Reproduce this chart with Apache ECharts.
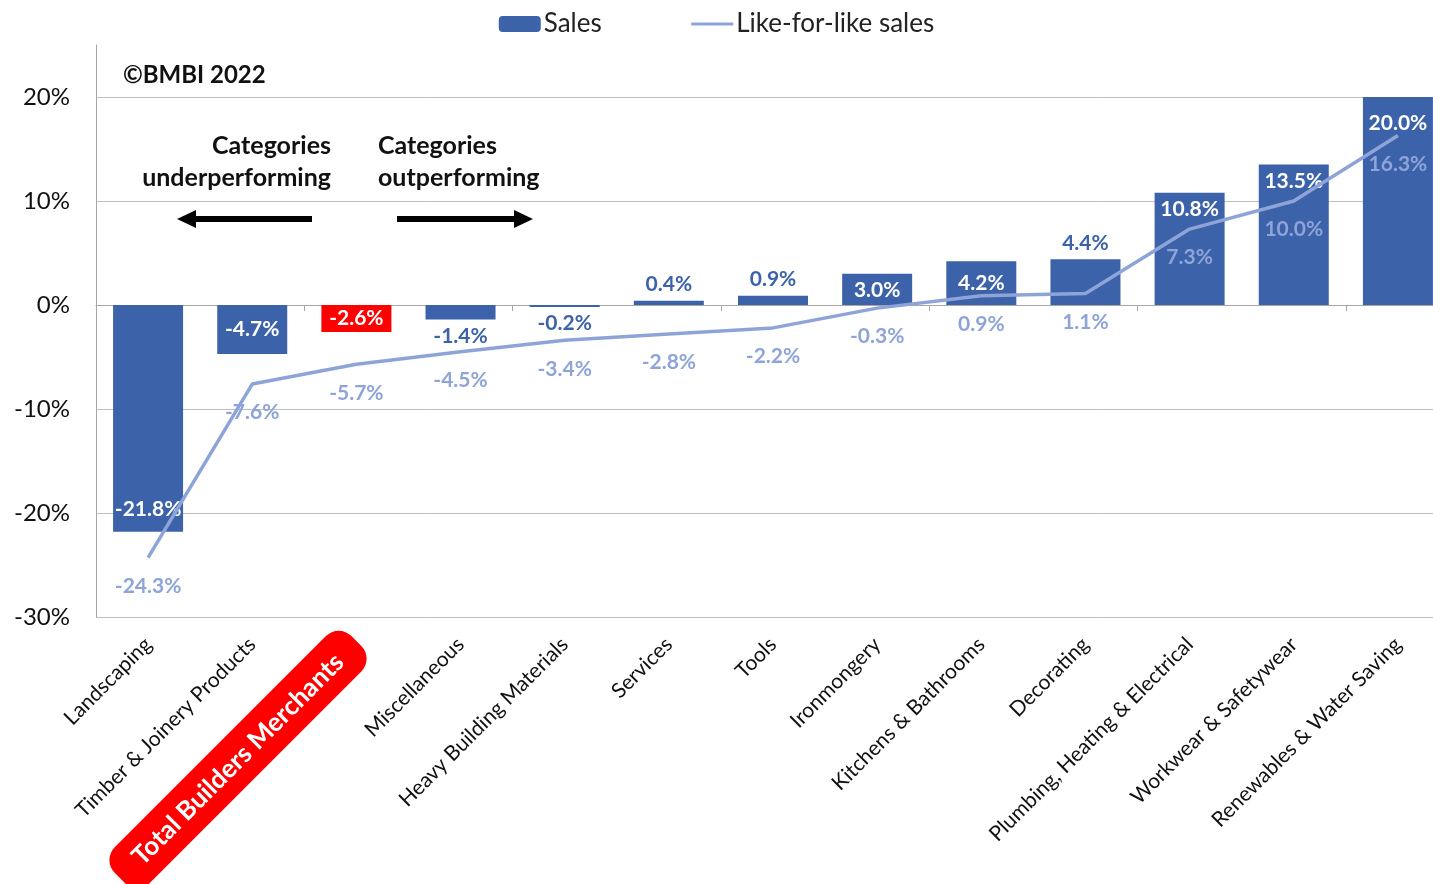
<!DOCTYPE html>
<html>
<head>
<meta charset="utf-8">
<script src="https://cdn.jsdelivr.net/npm/echarts@6/dist/echarts.min.js"></script>
<style>
    html, body { margin: 0; padding: 0; background: #fff; }
    #chart { width: 1433px; height: 884px; }
</style>
</head>
<body>
<div id="chart"></div>
<script>
const categories = [
    'Landscaping', 'Timber & Joinery Products', 'Total Builders Merchants', 'Miscellaneous',
    'Heavy Building Materials', 'Services', 'Tools', 'Ironmongery', 'Kitchens & Bathrooms',
    'Decorating', 'Plumbing, Heating & Electrical', 'Workwear & Safetywear', 'Renewables & Water Saving'
];
const sales = [-21.8, -4.7, -2.6, -1.4, -0.2, 0.4, 0.9, 3.0, 4.2, 4.4, 10.8, 13.5, 20.0];
const likeForLike = [-24.3, -7.6, -5.7, -4.5, -3.4, -2.8, -2.2, -0.3, 0.9, 1.1, 7.3, 10.0, 16.3];
const highlight = 'Total Builders Merchants';

// where each sales label sits relative to its bar
const salesLabelPos = ['insideBottom', 'inside', 'inside', 'bottom', 'bottom', 'top', 'top',
    'insideTop', 'inside', 'top', 'insideTop', 'insideTop', 'insideTop'];

const FONT = 'Lato, "Noto Sans", sans-serif';
const BAR = '#3C62AA';
const LINE = '#8EA4D8';

const chart = echarts.init(document.getElementById('chart'));

const barData = sales.map((v, i) => {
    const pos = salesLabelPos[i];
    const inside = pos.indexOf('inside') === 0;
    return {
        value: v,
        itemStyle: { color: categories[i] === highlight ? '#FF0000' : BAR },
        label: {
            position: pos,
            color: inside ? '#fff' : BAR,
            distance: pos === 'insideTop' && v > 15 ? 16 : (pos === 'insideBottom' ? 12 : 6)
        }
    };
});

const option = {
    animation: false,
    textStyle: { fontFamily: FONT },
    legend: {
        top: 6,
        left: 'center',
        itemWidth: 42,
        itemHeight: 16,
        itemGap: 88,
        textStyle: { fontSize: 26, color: '#222', fontFamily: FONT, padding: [0, 0, 0, -2] },
        data: [
            { name: 'Sales' },
            { name: 'Like-for-like sales', itemStyle: { opacity: 0 }, lineStyle: { width: 3 } }
        ]
    },
    grid: { left: 96, right: -17, top: 45, bottom: 267, outerBoundsMode: 'none', containLabel: false },
    xAxis: [
        {
            type: 'category',
            data: categories,
            position: 'bottom',
            axisLine: { onZero: true, lineStyle: { color: '#A6A6A6', width: 1 } },
            axisTick: { show: true, length: 6, lineStyle: { color: '#A6A6A6' } },
            axisLabel: { show: false }
        },
        {
            type: 'category',
            data: categories,
            position: 'bottom',
            axisLine: { show: false, onZero: false },
            axisTick: { show: false },
            axisLabel: {
                interval: 0,
                rotate: 45,
                margin: 24,
                fontSize: 21,
                color: '#111',
                fontFamily: FONT,
                formatter: v => v === highlight ? '{tbm|' + v + '}' : v,
                rich: {
                    tbm: {
                        backgroundColor: '#FF0000',
                        color: '#fff',
                        fontWeight: 'bold',
                        fontSize: 26,
                        fontFamily: FONT,
                        padding: [12, 24, 12, 24],
                        borderRadius: 18
                    }
                }
            }
        }
    ],
    yAxis: {
        type: 'value',
        min: -30,
        max: 25,
        interval: 10,
        axisLine: { show: true, lineStyle: { color: '#A6A6A6' } },
        axisTick: { show: false },
        axisLabel: {
            showMaxLabel: false,
            fontSize: 24,
            color: '#111',
            margin: 26,
            fontFamily: FONT,
            formatter: v => v + '%'
        },
        splitLine: { showMaxLine: false, lineStyle: { color: '#BFBFBF', width: 1 } }
    },
    series: [
        {
            name: 'Sales',
            type: 'bar',
            barWidth: 70,
            itemStyle: { color: BAR },
            label: {
                show: true,
                fontSize: 21,
                fontWeight: 'bold',
                fontFamily: FONT,
                formatter: p => p.value.toFixed(1) + '%'
            },
            data: barData,
            z: 2
        },
        {
            name: 'Like-for-like sales',
            type: 'line',
            symbol: 'circle',
            symbolSize: 0,
            showSymbol: true,
            lineStyle: { color: LINE, width: 3.5 },
            itemStyle: { color: LINE },
            label: {
                show: true,
                position: 'bottom',
                distance: 18,
                color: LINE,
                fontSize: 21,
                fontWeight: 'bold',
                fontFamily: FONT,
                formatter: p => p.value.toFixed(1) + '%'
            },
            data: likeForLike,
            z: 3
        }
    ],
    graphic: [
        {
            type: 'text', left: 123, top: 63,
            style: { text: '©BMBI 2022', font: 'bold 24px ' + FONT, fill: '#111' }
        },
        {
            type: 'text', x: 331, y: 130,
            style: { text: 'Categories\nunderperforming', align: 'right', lineHeight: 32,
                font: 'bold 25px ' + FONT, fill: '#111' }
        },
        {
            type: 'text', x: 378, y: 130,
            style: { text: 'Categories\noutperforming', align: 'left', lineHeight: 32,
                font: 'bold 25px ' + FONT, fill: '#111' }
        },
        {
            type: 'polygon',
            shape: { points: [[177, 219], [196, 210], [196, 216], [312, 216], [312, 222], [196, 222], [196, 228]] },
            style: { fill: '#000' }
        },
        {
            type: 'polygon',
            shape: { points: [[533, 219], [514, 210], [514, 216], [397, 216], [397, 222], [514, 222], [514, 228]] },
            style: { fill: '#000' }
        }
    ]
};

chart.setOption(option);
</script>
</body>
</html>
